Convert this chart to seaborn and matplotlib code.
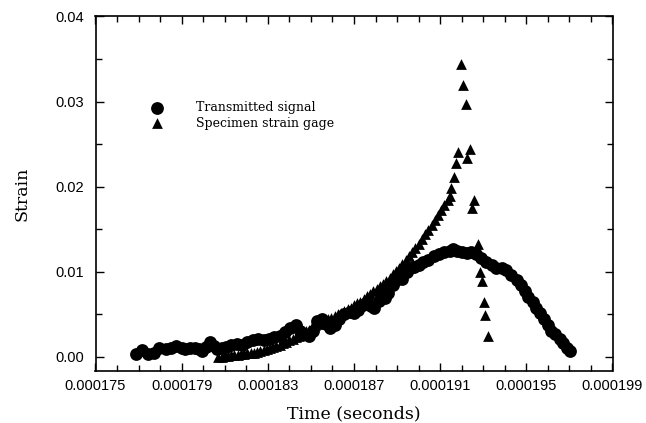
import numpy as np
import pandas as pd
import matplotlib
matplotlib.use("Agg")
import matplotlib.pyplot as plt
from matplotlib.ticker import MultipleLocator, FixedLocator, FixedFormatter, FuncFormatter
import seaborn as sns

# ---- data (time in microseconds, strain) ----
trans_time_us = [176.88, 177.15, 177.45, 177.7, 177.97, 178.25, 178.5, 178.75, 179.0, 179.15,
                 179.4, 179.6, 179.8, 179.95, 180.15, 180.3, 180.5, 180.65, 180.85, 181.05,
                 181.3, 181.55, 181.8, 182.05, 182.3, 182.55, 182.8, 183.05, 183.3, 183.55,
                 183.8, 184.05, 184.3, 184.5, 184.7, 184.9, 185.1, 185.3, 185.5, 185.7,
                 185.9, 186.1, 186.3, 186.55, 186.8, 187.0, 187.2, 187.4, 187.6, 187.8,
                 187.95, 188.15, 188.3, 188.45, 188.6, 188.8, 188.95, 189.1, 189.25, 189.45,
                 189.6, 189.8, 190.0, 190.2, 190.45, 190.7, 190.95, 191.2, 191.45, 191.6,
                 191.8, 192.0, 192.25, 192.45, 192.65, 192.9, 193.15, 193.4, 193.6, 193.85,
                 194.05, 194.3, 194.55, 194.75, 194.95, 195.1, 195.3, 195.45, 195.65, 195.8,
                 196.0, 196.15, 196.35, 196.55, 196.7, 196.9, 197.05]
trans_strain = [0.0003, 0.0008, 0.0003, 0.0005, 0.0011, 0.0009, 0.0010, 0.0013, 0.0011, 0.0009,
                0.0010, 0.0011, 0.0009, 0.0007, 0.0012, 0.0017, 0.0013, 0.0009, 0.0011, 0.0012,
                0.0014, 0.0015, 0.0014, 0.0017, 0.0020, 0.0021, 0.0020, 0.0021, 0.0023, 0.0025,
                0.0029, 0.0034, 0.0037, 0.0031, 0.0027, 0.0025, 0.0031, 0.0042, 0.0045, 0.0039,
                0.0034, 0.0038, 0.0045, 0.0050, 0.0053, 0.0052, 0.0055, 0.0061, 0.0065, 0.0060,
                0.0058, 0.0066, 0.0071, 0.0069, 0.0075, 0.0085, 0.0090, 0.0093, 0.0091, 0.0100,
                0.0104, 0.0106, 0.0108, 0.0111, 0.0114, 0.0118, 0.0121, 0.0123, 0.0125, 0.0127,
                0.0125, 0.0123, 0.0122, 0.0123, 0.0121, 0.0116, 0.0111, 0.0108, 0.0105, 0.0104,
                0.0102, 0.0096, 0.0090, 0.0085, 0.0078, 0.0070, 0.0064, 0.0058, 0.0052, 0.0045,
                0.0037, 0.0031, 0.0027, 0.0021, 0.0016, 0.0011, 0.0007]

gage_time_us = [180.70, 180.85, 181.00, 181.15, 181.30, 181.45, 181.60, 181.75, 181.90, 182.05,
                182.20, 182.35, 182.50, 182.65, 182.80, 182.95, 183.10, 183.25, 183.40, 183.55,
                183.70, 183.85, 184.00, 184.15, 184.30, 184.45, 184.60, 184.75, 184.90, 185.05,
                185.20, 185.35, 185.50, 185.65, 185.80, 185.95, 186.10, 186.25, 186.40, 186.55,
                186.70, 186.85, 187.00, 187.15, 187.30, 187.45, 187.60, 187.75, 187.90, 188.05,
                188.20, 188.35, 188.50, 188.65, 188.80, 188.95, 189.10, 189.25, 189.40, 189.55,
                189.70, 189.85, 190.00, 190.15, 190.30, 190.45, 190.60, 190.75, 190.90, 191.05,
                191.20, 191.35, 191.45,
                191.52, 191.62, 191.75, 191.85, 191.96, 192.08, 192.19, 192.25, 192.37, 192.46,
                192.58, 192.77, 192.84, 192.95, 193.05, 193.10, 193.23]
gage_strain = [0.0000, 0.0000, 0.0001, 0.0001, 0.0002, 0.0002, 0.0002, 0.0003, 0.0003, 0.0004,
               0.0005, 0.0005, 0.0006, 0.0007, 0.0008, 0.0009, 0.0011, 0.0012, 0.0013, 0.0014,
               0.0016, 0.0018, 0.0020, 0.0021, 0.0023, 0.0025, 0.0028, 0.0030, 0.0032, 0.0035,
               0.0037, 0.0039, 0.0041, 0.0043, 0.0045, 0.0046, 0.0048, 0.0050, 0.0052, 0.0054,
               0.0056, 0.0058, 0.0061, 0.0063, 0.0065, 0.0068, 0.0071, 0.0074, 0.0077, 0.0080,
               0.0083, 0.0086, 0.0089, 0.0093, 0.0097, 0.0101, 0.0105, 0.0109, 0.0114, 0.0118,
               0.0123, 0.0128, 0.0133, 0.0139, 0.0144, 0.0149, 0.0155, 0.0161, 0.0167, 0.0173,
               0.0179, 0.0184, 0.0189,
               0.0198, 0.0211, 0.0228, 0.0241, 0.0344, 0.0320, 0.0297, 0.0234, 0.0244, 0.0175,
               0.0184, 0.0133, 0.0100, 0.0089, 0.0065, 0.0049, 0.0025]

x_tick_values = [0.000175, 0.000179, 0.000183, 0.000187, 0.000191, 0.000195, 0.000199]
x_tick_labels = ["0.000175", "0.000179", "0.000183", "0.000187", "0.000191", "0.000195", "0.000199"]

df_trans = pd.DataFrame({"time": np.array(trans_time_us) * 1e-6, "strain": trans_strain})
df_gage = pd.DataFrame({"time": np.array(gage_time_us) * 1e-6, "strain": gage_strain})

sns.set_style("ticks")
plt.rcParams["font.family"] = ["DejaVu Serif"]

fig = plt.figure(figsize=(6.46, 4.23), dpi=100)
ax = fig.add_axes([95.5 / 646, 1 - 370.5 / 423, (612.5 - 95.5) / 646, (370.5 - 16.5) / 423])

sns.scatterplot(data=df_trans, x="time", y="strain", ax=ax, marker="o", s=85,
                color="black", edgecolor="black", linewidth=0, label="Transmitted signal")
sns.scatterplot(data=df_gage, x="time", y="strain", ax=ax, marker="^", s=60,
                color="black", edgecolor="black", linewidth=0, label="Specimen strain gage")

ax.set_xlim(0.000175, 0.000199)
ax.set_ylim(-0.0016, 0.0400)

ax.xaxis.set_major_locator(FixedLocator(x_tick_values))
ax.xaxis.set_major_formatter(FixedFormatter(x_tick_labels))
ax.xaxis.set_minor_locator(MultipleLocator(1e-6))
ax.yaxis.set_major_locator(MultipleLocator(0.01))
ax.yaxis.set_minor_locator(MultipleLocator(0.005))
ax.yaxis.set_major_formatter(FuncFormatter(lambda v, p: "%.2f" % v))

ax.tick_params(which="both", direction="in", top=True, right=True, color="black", width=1.0)
ax.tick_params(which="major", length=6)
ax.tick_params(which="minor", length=4)
ax.tick_params(axis="x", which="major", pad=6)
ax.tick_params(axis="y", which="major", pad=8)
for lab in ax.get_xticklabels() + ax.get_yticklabels():
    lab.set_family("Liberation Sans")
    lab.set_fontsize(10.5)
    lab.set_color("black")

for sp in ax.spines.values():
    sp.set_visible(True)
    sp.set_linewidth(1.2)
    sp.set_color("black")

ax.set_xlabel("Time (seconds)", fontsize=12.5, color="black", labelpad=9)
ax.set_ylabel("Strain", fontsize=12.5, color="black", labelpad=18)

leg = ax.legend(loc="upper left", bbox_to_anchor=((144 - 95.5) / 517, (370.5 - 101) / 354),
                frameon=False, fontsize=9, handlelength=2.0, handletextpad=2.2,
                labelspacing=0.22, borderpad=0, borderaxespad=0, markerscale=1.0)
for t in leg.get_texts():
    t.set_color("black")

fig.savefig("out.png", dpi=100, facecolor="white")
